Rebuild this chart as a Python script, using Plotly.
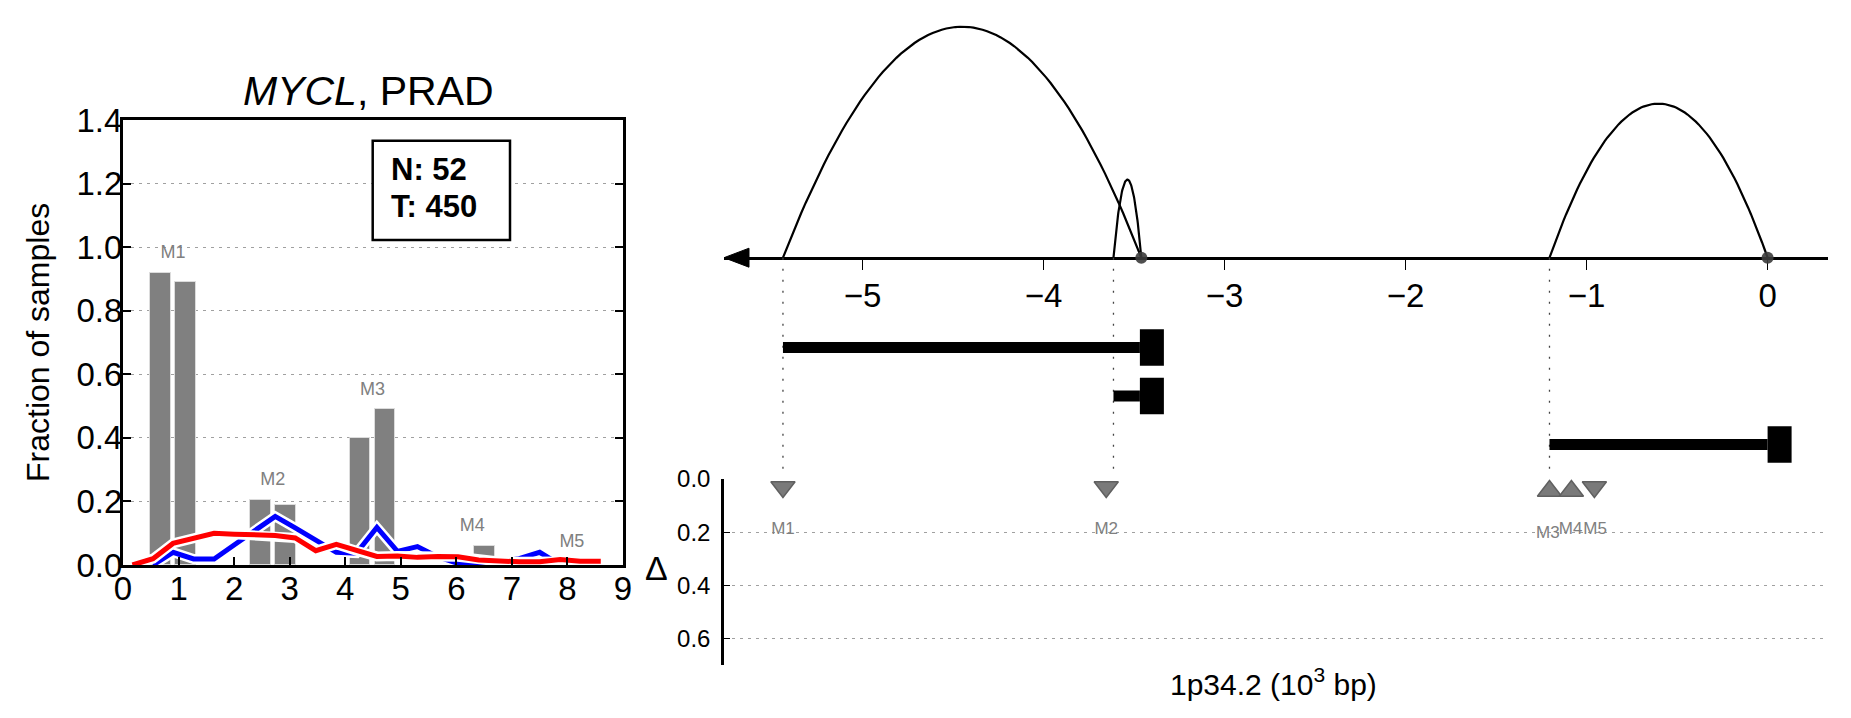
import numpy as np
import plotly.graph_objects as go

W, H = 1851, 718
FONT = "Liberation Sans"

# ---------------- data: left panel ----------------
mutations = ["M1", "M2", "M3", "M4", "M5"]
frac_first = [0.92, 0.205, 0.40, 0.0, 0.0]
frac_second = [0.89, 0.19, 0.49, 0.06, 0.012]
bin_x = [0.17, 0.54, 0.90, 1.27, 1.64, 2.00, 2.37, 2.74, 3.10, 3.47, 3.84, 4.20,
         4.57, 4.94, 5.30, 5.67, 6.03, 6.40, 6.77, 7.13, 7.50, 7.87, 8.23, 8.60]
blue_y = [None, 0.0, 0.04, 0.019, 0.019, 0.063, 0.108, 0.153, 0.117, 0.078, 0.04, 0.037,
          0.118, 0.043, 0.058, 0.025, 0.005, 0.0, 0.01, 0.02, 0.04, 0.0, None, None]
red_y = [0.0, 0.02, 0.068, 0.083, 0.10, 0.097, 0.094, 0.093, 0.085, 0.045, 0.065, 0.045,
         0.027, 0.028, 0.024, 0.027, 0.026, 0.016, 0.011, 0.01, 0.01, 0.017, 0.012, 0.012]
n_normal = 52
n_tumor = 450
left_xticks = [0, 1, 2, 3, 4, 5, 6, 7, 8, 9]
left_yticks = [0.0, 0.2, 0.4, 0.6, 0.8, 1.0, 1.2, 1.4]

# ---------------- data: right panel ----------------
arc_start = [-5.44, -3.614, -1.205]
arc_end = [-3.46, -3.46, 0.0]
arc_height = [1.0, 0.338, 0.667]
tss_pos = [-3.46, 0.0]
tx_start = [-5.44, -3.614, -1.205]
tx_end = [-3.468, -3.468, 0.0]
guide_x = [-5.44, -3.614, -1.205]
delta_x = [-5.44, -3.654, -1.205, -1.084, -0.957]
delta_y = [0.03, 0.03, 0.045, 0.045, 0.03]
delta_dir = ["down", "down", "up", "up", "down"]
delta_label_x = [-5.44, -3.654, -1.214, -1.088, -0.953]
delta_label_y = [0.19, 0.19, 0.206, 0.19, 0.19]
right_xticks = [-5, -4, -3, -2, -1, 0]
delta_ticks = [0.0, 0.2, 0.4, 0.6]

# ---------------- geometry helpers (page pixels -> paper) ----------------
OFF = 8  # page body margin of the saved html

def px_x(p):
    return (p - OFF) / W

def px_y(p):
    return 1 - (p - OFF) / H

# left plot box
L_LEFT, L_RIGHT, L_TOP, L_BOT = 123, 623, 120, 565
# right plot
R_LEFT, R_RIGHT = 724, 1827.7
AX_Y = 257.7          # genomic axis line (px)
X_UNIT = 181.0        # px per 10^3 bp
ZERO_PX = 1767.6
ARC_UNIT = 231.0      # px per arc height unit
D_TOP, D_BOT = 479, 665
ROW0, ROW_STEP = 347.5, 48.5

xr_lo = (R_LEFT - ZERO_PX) / X_UNIT
xr_hi = (R_RIGHT - ZERO_PX) / X_UNIT

fig = go.Figure()

# ---- left: bars ----
bar_w = 0.37
group_base = [0.49 + 1.795 * i for i in range(len(mutations))]
bx, by = [], []
for i in range(len(mutations)):
    bx += [group_base[i] + 0.185, group_base[i] + 0.635]
    by += [frac_first[i], frac_second[i]]
fig.add_trace(go.Bar(x=bx, y=by, width=bar_w, marker=dict(color="#808080", line=dict(color="#dcdcdc", width=1)),
                     xaxis="x", yaxis="y", showlegend=False))

for ys, col in [(blue_y, "#0000ff"), (red_y, "#ff0000")]:
    fig.add_trace(go.Scatter(x=bin_x, y=ys, mode="lines", line=dict(color="white", width=10),
                             xaxis="x", yaxis="y", showlegend=False, hoverinfo="skip"))
    fig.add_trace(go.Scatter(x=bin_x, y=ys, mode="lines", line=dict(color=col, width=5),
                             xaxis="x", yaxis="y", showlegend=False))

lab_x = [group_base[i] + 0.41 for i in range(len(mutations))]
lab_y = [max(frac_first[i], frac_second[i]) + 0.06 for i in range(len(mutations))]
fig.add_trace(go.Scatter(x=lab_x, y=lab_y, mode="text", text=mutations,
                         textfont=dict(family=FONT, size=18, color="#808080"),
                         xaxis="x", yaxis="y", showlegend=False, cliponaxis=False))

# ---- right: arcs ----
t = np.linspace(0, 1, 80)
for s, e, h in zip(arc_start, arc_end, arc_height):
    fig.add_trace(go.Scatter(x=s + (e - s) * t, y=h * 4 * t * (1 - t), mode="lines",
                             line=dict(color="black", width=2.2), xaxis="x2", yaxis="y2",
                             showlegend=False))

# arrow head at left end of genomic axis
ah_w = 25 / X_UNIT
ah_h = 9.5 / ARC_UNIT
fig.add_trace(go.Scatter(x=[xr_lo, xr_lo + ah_w, xr_lo + ah_w, xr_lo], y=[0, ah_h, -ah_h, 0],
                         mode="lines", fill="toself", fillcolor="black", line=dict(color="black", width=1),
                         xaxis="x2", yaxis="y2", showlegend=False))

# TSS circles
fig.add_trace(go.Scatter(x=tss_pos, y=[0] * len(tss_pos), mode="markers",
                         marker=dict(color="#3c3c3c", size=12, opacity=0.9),
                         xaxis="x2", yaxis="y2", showlegend=False, cliponaxis=False))

# dotted guide lines
guide_bottom = -(476 - AX_Y) / ARC_UNIT
for gx in guide_x:
    fig.add_trace(go.Scatter(x=[gx, gx], y=[0, guide_bottom], mode="lines",
                             line=dict(color="#444444", width=1.3, dash="2px,9px"),
                             xaxis="x2", yaxis="y2", showlegend=False))

# transcripts (rows on y3)
cap_w = 24 / X_UNIT
line_half = 5.5 / ROW_STEP
cap_half = 18.3 / ROW_STEP
for r, (s, e) in enumerate(zip(tx_start, tx_end)):
    fig.add_shape(type="rect", xref="x2", yref="y3", x0=s, x1=e, y0=r - line_half, y1=r + line_half,
                  fillcolor="black", line=dict(width=0))
    fig.add_shape(type="rect", xref="x2", yref="y3", x0=e, x1=e + cap_w, y0=r - cap_half, y1=r + cap_half,
                  fillcolor="black", line=dict(width=0))
fig.add_trace(go.Scatter(x=[tx_start[0]], y=[0], mode="markers", marker=dict(opacity=0),
                         xaxis="x2", yaxis="y3", showlegend=False, hoverinfo="skip"))

# delta markers
for d in ["down", "up"]:
    idx = [i for i in range(len(delta_x)) if delta_dir[i] == d]
    fig.add_trace(go.Scatter(x=[delta_x[i] for i in idx], y=[delta_y[i] for i in idx], mode="markers",
                             marker=dict(symbol="triangle-" + d, size=21, color="#7a7a7a",
                                         line=dict(color="#606060", width=1.5)),
                             xaxis="x2", yaxis="y4", showlegend=False, cliponaxis=False))
fig.add_trace(go.Scatter(x=delta_label_x, y=delta_label_y, mode="text", text=mutations,
                         textfont=dict(family=FONT, size=17, color="#808080"),
                         xaxis="x2", yaxis="y4", showlegend=False, cliponaxis=False))

grid_dash = "3px,5px"
fig.update_layout(
    width=W, height=H, margin=dict(l=0, r=0, t=0, b=0, autoexpand=False),
    paper_bgcolor="white", plot_bgcolor="rgba(0,0,0,0)",
    font=dict(family=FONT, color="black"),
    bargap=0,
    xaxis=dict(domain=[px_x(L_LEFT), px_x(L_RIGHT)], range=[0, 9], tickvals=left_xticks,
               ticks="inside", ticklen=8, tickwidth=1.5, tickcolor="black",
               showline=True, linewidth=3, linecolor="black", mirror=True,
               showgrid=False, zeroline=False, tickfont=dict(size=33), anchor="y",
               automargin=False, ticklabelstandoff=-8),
    yaxis=dict(domain=[px_y(L_BOT), px_y(L_TOP)], range=[0, 1.4], tickvals=left_yticks,
               tickformat=".1f", ticks="inside", ticklen=8, tickwidth=1.5, tickcolor="black",
               showline=True, linewidth=3, linecolor="black", mirror="ticks",
               showgrid=True, gridcolor="#a0a0a0", gridwidth=1, griddash=grid_dash,
               zeroline=False, tickfont=dict(size=33), anchor="x", ticklabelstandoff=-9,
               automargin=False),
    xaxis2=dict(domain=[px_x(R_LEFT), px_x(R_RIGHT)], range=[xr_lo, xr_hi], tickvals=right_xticks,
                anchor="free", position=px_y(AX_Y), side="bottom",
                ticks="outside", ticklen=11, tickwidth=1.3, tickcolor="black",
                showline=True, linewidth=2.5, linecolor="black", layer="below traces",
                showgrid=False, zeroline=False, tickfont=dict(size=33), ticklabelstandoff=-3,
                automargin=False),
    yaxis2=dict(domain=[px_y(D_TOP), 1], range=[-(D_TOP - AX_Y) / ARC_UNIT, (AX_Y - OFF) / ARC_UNIT],
                visible=False, anchor="x2", automargin=False),
    yaxis3=dict(domain=[px_y(490), px_y(300)], range=[(490 - ROW0) / ROW_STEP, (300 - ROW0) / ROW_STEP],
                visible=False, anchor="x2", automargin=False),
    yaxis4=dict(domain=[px_y(D_BOT), px_y(D_TOP)], range=[0.7, 0], tickvals=delta_ticks,
                tickformat=".1f", ticks="inside", ticklen=6, tickwidth=1.3, tickcolor="black",
                showline=True, linewidth=2.5, linecolor="black",
                showgrid=True, gridcolor="#a0a0a0", gridwidth=1, griddash=grid_dash,
                zeroline=False, tickfont=dict(size=24), anchor="x2", ticklabelstandoff=6,
                automargin=False),
)

# N/T box
fig.add_shape(type="rect", xref="paper", yref="paper", x0=px_x(372.7), x1=px_x(510),
              y0=px_y(240), y1=px_y(140.7), line=dict(color="black", width=2.5), fillcolor="white")

ann = [
    dict(text="<i>MYCL</i>, PRAD", x=px_x(368), y=px_y(91), size=41, xanchor="center", angle=0),
    dict(text="Fraction of samples", x=px_x(38), y=px_y(343), size=32, xanchor="center", angle=-90),
    dict(text="<b>N: %d</b>" % n_normal, x=px_x(389), y=px_y(169.8), size=31, xanchor="left", angle=0),
    dict(text="<b>T: %d</b>" % n_tumor, x=px_x(389), y=px_y(206), size=31, xanchor="left", angle=0),
    dict(text="Δ", x=px_x(656), y=px_y(567.5), size=34, xanchor="center", angle=0),
    dict(text="1p34.2 (10<sup>3</sup> bp)", x=px_x(1273), y=px_y(682), size=30, xanchor="center", angle=0),
]
for a in ann:
    fig.add_annotation(text=a["text"], x=a["x"], y=a["y"], xref="paper", yref="paper",
                       xanchor=a["xanchor"], yanchor="middle", showarrow=False, textangle=a["angle"],
                       font=dict(family=FONT, size=a["size"], color="black"))

fig.write_html("out.html")
